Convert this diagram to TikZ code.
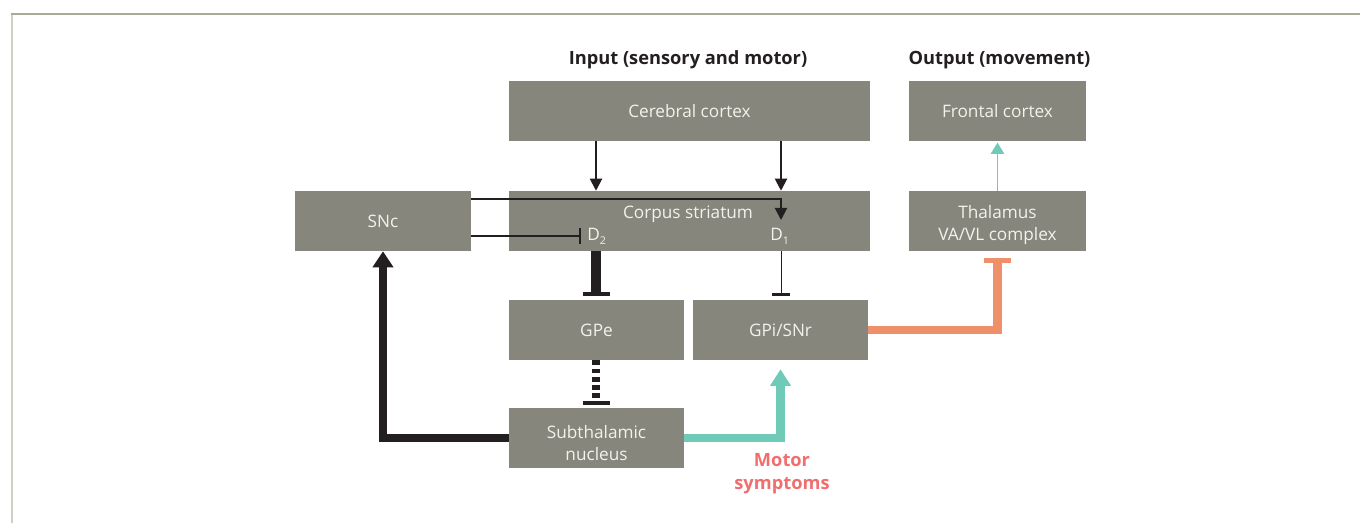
\documentclass[tikz,border=0pt]{standalone}
\usepackage{fontspec}
\setmainfont{Open Sans}
\usetikzlibrary{arrows.meta}
\definecolor{boxgrey}{RGB}{135,134,124}
\definecolor{boxtext}{RGB}{242,242,236}
\definecolor{darktext}{RGB}{35,31,32}
\definecolor{tealc}{RGB}{112,202,184}
\definecolor{orangec}{RGB}{240,144,106}
\definecolor{redc}{RGB}{242,109,109}
\definecolor{frametop}{RGB}{170,170,150}
\definecolor{frameleft}{RGB}{208,208,200}
\tikzset{
  box/.style={fill=boxgrey, draw=none, inner sep=0pt, text=boxtext, align=center,
    font=\fontsize{12.9}{15.9}\selectfont},
  lab/.style={text=boxtext, align=center, inner sep=0pt,
    font=\fontsize{12.9}{15.9}\selectfont},
  head/.style={text=darktext, font=\fontsize{13.7}{16}\selectfont\bfseries, inner sep=0pt},
  blk/.style={draw=darktext, line width=1.5pt, -{Triangle[length=9pt,width=9pt]}},
  blkbar/.style={draw=darktext, line width=1.5pt, -{Bar[width=12pt,line width=1.5pt]}},
  thickbar/.style={draw=darktext, line width=6.8pt, -{Bar[width=20.25pt,line width=3.3pt]}},
  thinbar/.style={draw=darktext, line width=0.75pt, -{Bar[width=13.5pt,line width=2.4pt]}},
  dashbar/.style={draw=darktext, line width=5.8pt, dash pattern=on 3.7pt off 2.5pt, -{Bar[width=20.25pt,line width=3.3pt]}},
  thickarrow/.style={draw=darktext, line width=6pt, -{Triangle[length=12pt,width=15pt]}},
  tealarrow/.style={draw=tealc, line width=6.5pt, -{Triangle[length=12.5pt,width=15pt]}},
  orangebar/.style={draw=orangec, line width=6.5pt, -{Bar[width=20.25pt,line width=3.5pt]}},
  thinteal/.style={draw=tealc, line width=1.3pt, -{Triangle[length=8.5pt,width=10pt]}},
}
\begin{document}
\begin{tikzpicture}[x=0.75pt,y=-0.75pt]
\useasboundingbox (0,0) rectangle (1360,523);
% frame
\draw[frameleft, line width=1.5pt] (11.5,14) -- (11.5,523);
\draw[frametop, line width=1.2pt] (11,14) -- (1360,14);

% headings
\node[head] (hin) at (688,60) {Input (sensory and motor)};
\node[head] (hout) at (999.5,60) {Output (movement)};

% boxes
\node[box, minimum width=270.75pt, minimum height=45pt] (cc) at (689.5,111) {Cerebral cortex};
\node[box, minimum width=132.75pt, minimum height=45pt] (fc) at (997.5,111) {Frontal cortex};
\node[box, minimum width=132pt, minimum height=45pt] (snc) at (383,221) {SNc};
\node[box, minimum width=270.75pt, minimum height=45pt] (cs) at (689.5,221) {};
\node[box, minimum width=132.75pt, minimum height=45pt] (th) at (997.5,221) {};
\node[box, minimum width=131.25pt, minimum height=45pt] (gpe) at (596.5,330) {GPe};
\node[box, minimum width=131.25pt, minimum height=45pt] (gpi) at (780.5,330) {GPi/SNr};
\node[box, minimum width=131.25pt, minimum height=45pt] (stn) at (596.5,438) {};

% labels
\node[lab] (cslab) at (688,214) {Corpus striatum};
\node[lab, anchor=west] (d2) at (587,236) {D\raisebox{-0.45ex}{\fontsize{8}{9}\selectfont 2}};
\node[lab, anchor=west] (d1) at (770,236) {D\raisebox{-0.45ex}{\fontsize{8}{9}\selectfont 1}};
\node[lab] (thlab) at (997.5,225) {Thalamus\\VA/VL complex};
\node[lab] (stnlab) at (596.5,443) {Subthalamic\\nucleus};

% helper coordinates
\coordinate (x596) at (596,0);
\coordinate (x781) at (781,0);
\coordinate (y199) at (0,199);
\coordinate (y236) at (0,236);
\coordinate (d1tip) at (781,220);
\coordinate (d2bar) at (581,236);
\coordinate (gpebar) at (596,296);
\coordinate (gpibar) at (781,296);
\coordinate (stnbar) at (596,405);

% cortex -> striatum
\draw[blk] (cc.south -| x596) -- (cs.north -| x596);
\draw[blk] (cc.south -| x781) -- (cs.north -| x781);

% SNc -> D1, SNc -| D2
\draw[blk] (snc.east |- y199) -| (d1tip);
\draw[blkbar] (snc.east |- y236) -- (d2bar);

% D2 -| GPe, D1 -| GPi
\draw[thickbar] (cs.south -| x596) -- (gpebar);
\draw[thinbar] (cs.south -| x781) -- (gpibar);

% GPe -| STN (dashed)
\draw[dashbar] (gpe.south -| x596) -- (stnbar);

% STN -> SNc
\draw[thickarrow] (stn.west) -| (snc.south);

% STN -> GPi (teal)
\draw[tealarrow, shorten >=6.75pt] (stn.east) -| (gpi.south);

% GPi -| Thalamus (orange)
\draw[orangebar, shorten >=5pt] (gpi.east) -| (th.south);

% Thalamus -> Frontal cortex
\draw[thinteal, shorten >=1pt] (th.north) -- (fc.south);

% Motor symptoms
\node[text=redc, font=\fontsize{13.7}{17.5}\selectfont\bfseries, align=center, inner sep=0pt] (ms) at (782,474) {Motor\\symptoms};
\end{tikzpicture}
\end{document}
